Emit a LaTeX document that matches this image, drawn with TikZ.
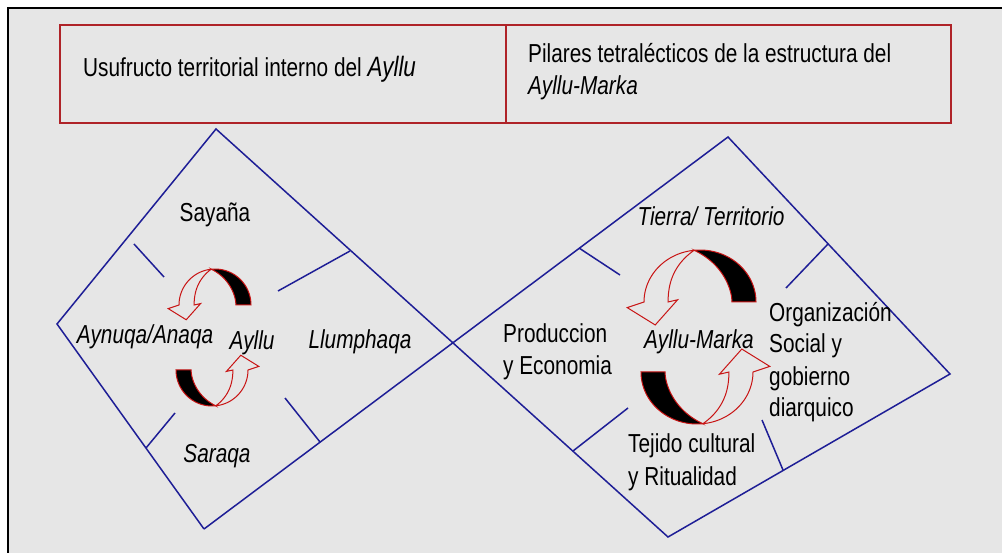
\documentclass[tikz,border=0pt]{standalone}
\usepackage{fontspec}
\setmainfont[FakeStretch=0.8]{Liberation Sans}
\definecolor{bgGray}{RGB}{230,230,230}
\definecolor{lineBlue}{RGB}{30,30,150}
\definecolor{hdrRed}{RGB}{175,35,40}
\definecolor{arrRed}{RGB}{200,20,20}
% twisted curved arrow: #1 = x radius, #2 = y radius, #3 = inner/outer ratio
\newcommand\twarrow[3]{%
  \fill[black,draw=arrRed,line width=1pt]
    plot[domain=0:96,samples=40] ({#1*cos(\x)},{-#2*sin(\x)})
    -- plot[domain=96:0,samples=40]
       ({(#3+(1-#3)*(\x/96)^2.5)*#1*cos(\x)},{-(#3+(1-#3)*(\x/96)^2.5)*#2*sin(\x)})
    -- cycle;
  \draw[arrRed,line width=1pt,line join=miter]
    plot[domain=96:180,samples=40] ({#1*cos(\x)},{-#2*sin(\x)})
    -- ({-1.3*#1},{0.1*#1}) -- ({-0.8*#1},{0.41*#1}) -- ({-0.4*#1},{-0.04*#1})
    -- ({-#3*#1},0)
    -- plot[domain=180:96,samples=40]
       ({(#3+(1-#3)*((180-\x)/84)^2)*#1*cos(\x)},{-(#3+(1-#3)*((180-\x)/84)^2)*#2*sin(\x)})
    -- cycle;
}
\begin{document}
\begin{tikzpicture}[x=1pt,y=-1pt,
  dline/.style={lineBlue,line width=1.5pt},
  hline/.style={hdrRed,line width=1.3pt},
  lbl/.style={inner sep=0pt,font=\fontsize{26}{32}\selectfont},
  lblc/.style={lbl,anchor=base},
  lblw/.style={lbl,anchor=base west}]
\useasboundingbox (0,0) rectangle (1002,553);
\fill[white] (0,0) rectangle (1002,553);
\fill[bgGray] (8,8) rectangle (1002,553);
\draw[line width=2.5pt] (8,553) -- (8,8) -- (1002,8);

% header
\coordinate (hTL) at (60,25);
\coordinate (hBR) at (951,123);
\coordinate (hDT) at (506,25);
\coordinate (hDB) at (506,123);
\draw[hline] (hTL) rectangle (hBR);
\draw[hline] (hDT) -- (hDB);
\node[lblw] (hdrL) at (83,77) {Usufructo territorial interno del {\fontsize{28}{32}\selectfont\itshape Ayllu}};
\node[lblw] (hdrR1) at (528,63) {Pilares tetralécticos de la estructura del};
\node[lblw] (hdrR2) at (528,95) {\textit{Ayllu-Marka}};

% diamonds
\coordinate (LT) at (216,129);
\coordinate (LL) at (57,324);
\coordinate (LB) at (204,529);
\coordinate (RT) at (728,137);
\coordinate (RR) at (950,374);
\coordinate (RB) at (668,537);
\draw[dline,line join=miter] (LB) -- (LL) -- (LT) -- (RB) -- (RR) -- (RT) -- (LB);

% ticks left
\draw[dline] (134,244) -- (164,277);
\draw[dline] (350,251) -- (278,291);
\draw[dline] (320,442) -- (285,398);
\draw[dline] (146,448) -- (175,413);
% ticks right
\draw[dline] (579,248) -- (620,275);
\draw[dline] (828,244) -- (786,288);
\draw[dline] (573,451) -- (628,408);
\draw[dline] (783,470) -- (762,420);

% circular arrows left
\begin{scope}[shift={(215,305)}] \twarrow{36}{36}{0.58} \end{scope}
\begin{scope}[shift={(212,370)},rotate=180] \twarrow{36}{36}{0.58} \end{scope}
% circular arrows right
\begin{scope}[shift={(700,302)}] \twarrow{56}{52}{0.57} \end{scope}
\begin{scope}[shift={(697,372)},rotate=180] \twarrow{56}{52}{0.57} \end{scope}

% left labels
\node[lblc] (say) at (215,222) {Sayaña};
\node[lblc] (ayn) at (145,344) {\textit{Aynuqa/Anaqa}};
\node[lblc] (ayl) at (252,350) {\textit{Ayllu}};
\node[lblc] (llu) at (360,349) {\textit{Llumphaqa}};
\node[lblc] (sar) at (217,462) {\textit{Saraqa}};

% right labels
\node[lblc] (tie) at (711,226) {\textit{Tierra/ Territorio}};
\node[lblw] (pro1) at (503,343) {Produccion};
\node[lblw] (pro2) at (503,375) {y Economia};
\node[lblc] (aym) at (699,349) {\textit{Ayllu-Marka}};
\node[lblw] (org1) at (769,322) {Organización};
\node[lblw] (org2) at (769,353) {Social y};
\node[lblw] (org3) at (769,385) {gobierno};
\node[lblw] (org4) at (769,417) {diarquico};
\node[lblw] (tej1) at (628,453) {Tejido cultural};
\node[lblw] (tej2) at (628,485) {y Ritualidad};
\end{tikzpicture}
\end{document}
